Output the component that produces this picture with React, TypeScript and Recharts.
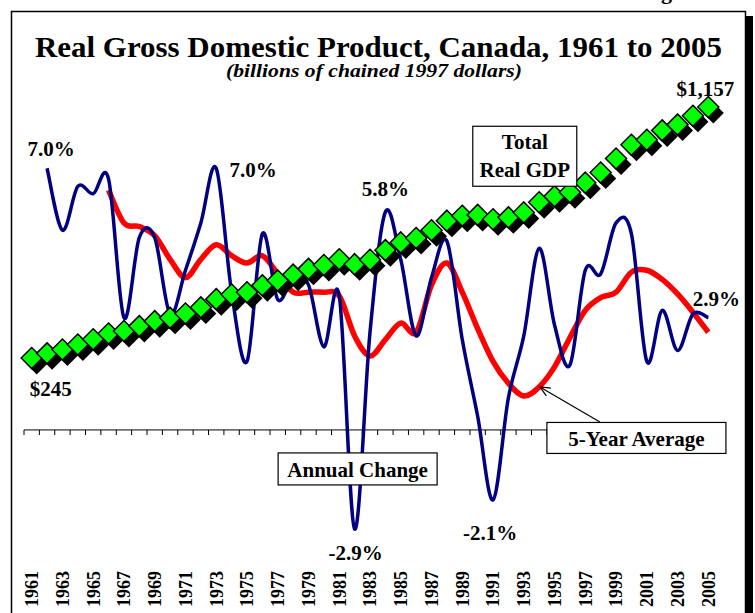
import {
  ComposedChart,
  Line,
  XAxis,
  YAxis,
  ReferenceLine,
  ReferenceDot,
} from "recharts";

const YEARS = [
  1961, 1962, 1963, 1964, 1965, 1966, 1967, 1968, 1969, 1970, 1971, 1972, 1973, 1974, 1975,
  1976, 1977, 1978, 1979, 1980, 1981, 1982, 1983, 1984, 1985, 1986, 1987, 1988, 1989, 1990,
  1991, 1992, 1993, 1994, 1995, 1996, 1997, 1998, 1999, 2000, 2001, 2002, 2003, 2004, 2005,
];

// billions of chained 1997 dollars
const GDP = [
  245, 262, 276, 294, 313, 334, 343, 361, 379, 391, 407, 429, 459, 476, 484,
  509, 527, 548, 569, 583, 604, 586, 602, 637, 665, 681, 709, 744, 762, 765,
  749, 756, 774, 811, 833, 847, 882, 919, 970, 1020, 1038, 1072, 1093, 1125, 1157,
];

// annual % change
const ANNUAL = [
  null, 7.0, 5.3, 6.5, 6.3, 6.7, 2.9, 5.1, 5.1, 3.0, 4.2, 5.5, 7.0, 3.6, 1.7,
  5.2, 3.4, 4.0, 3.8, 2.1, 3.5, -2.9, 2.5, 5.8, 4.5, 2.4, 4.0, 5.0, 2.3, 0.2,
  -2.1, 0.7, 2.4, 4.8, 2.7, 1.6, 4.2, 4.1, 5.5, 5.2, 1.7, 3.1, 2.0, 3.0, 2.9,
];

// 5-year average % change
const AVG5 = [
  null, null, null, null, null, 6.4, 5.5, 5.4, 5.15, 4.5, 4.0, 4.5, 4.9, 4.6, 4.4,
  4.6, 4.1, 3.6, 3.6, 3.6, 3.5, 2.4, 1.85, 2.3, 2.75, 2.5, 3.8, 4.4, 3.6, 2.6,
  1.7, 1.1, 0.75, 1.0, 1.55, 2.35, 3.1, 3.45, 3.6, 4.15, 4.2, 3.95, 3.55, 3.05, 2.5,
];

const LABEL_YEARS = [
  1961, 1963, 1965, 1967, 1969, 1971, 1973, 1975, 1977, 1979, 1981, 1983,
  1985, 1987, 1989, 1991, 1993, 1995, 1997, 1999, 2001, 2003, 2005,
];

const AXIS_AT = -0.18; // where the category axis crosses the % scale

const data = YEARS.map((year, i) => ({
  year,
  gdp: GDP[i],
  annual: ANNUAL[i],
  avg5: AVG5[i],
}));

const tickBounds = [...YEARS.map((y) => y - 0.5), YEARS[YEARS.length - 1] + 0.5];

const SERIF = "Liberation Serif, Times New Roman, Times, serif";
const bold = { fontFamily: SERIF, fontWeight: 700 } as const;

// Catmull-Rom style smoothing, like the spreadsheet's "smoothed line"
function smoothCurve(ctx: any) {
  let pts: number[][] = [];
  return {
    areaStart() {},
    areaEnd() {},
    lineStart() {
      pts = [];
    },
    point(x: number, y: number) {
      pts.push([+x, +y]);
    },
    lineEnd() {
      if (!pts.length) return;
      ctx.moveTo(pts[0][0], pts[0][1]);
      for (let i = 0; i < pts.length - 1; i++) {
        const p0 = pts[i - 1] || pts[i];
        const p1 = pts[i];
        const p2 = pts[i + 1];
        const p3 = pts[i + 2] || p2;
        ctx.bezierCurveTo(
          p1[0] + (p2[0] - p0[0]) / 6,
          p1[1] + (p2[1] - p0[1]) / 6,
          p2[0] - (p3[0] - p1[0]) / 6,
          p2[1] - (p3[1] - p1[1]) / 6,
          p2[0],
          p2[1]
        );
      }
    },
  };
}

function Diamond(props: any) {
  const { cx, cy, index } = props;
  if (cx == null || cy == null) return null;
  const r = 10.5;
  const pts = (ox: number, oy: number) =>
    `${cx + ox},${cy + oy - r} ${cx + ox + r},${cy + oy} ${cx + ox},${cy + oy + r} ${cx + ox - r},${cy + oy}`;
  return (
    <g key={`d-${index}`}>
      <polygon points={pts(5, 6)} fill="#000" />
      <polygon points={pts(0, 0)} fill="#00FF00" stroke="#000" strokeWidth={1.5} />
    </g>
  );
}

function YearTick(props: any) {
  const { x, y, payload } = props;
  return (
    <text
      transform={`translate(${x},${y}) rotate(-90)`}
      x={-67}
      dy="0.35em"
      textAnchor="start"
      style={{ ...bold, fontSize: 18 }}
      fill="#000"
    >
      {payload.value}
    </text>
  );
}

const valueLabel = (text: string, dx: number, dy: number) => (props: any) =>
  (
    <text
      x={props.cx + dx}
      y={props.cy + dy}
      textAnchor="middle"
      style={{ ...bold, fontSize: 21 }}
      fill="#000"
    >
      {text}
    </text>
  );

const boxLabel =
  (lines: string[], w: number, h: number, dx: number, baselines: number[]) => (props: any) =>
    (
      <g>
        <rect
          x={props.cx + dx - w / 2}
          y={props.cy - h / 2}
          width={w}
          height={h}
          fill="#fff"
          stroke="#000"
          strokeWidth={1.2}
        />
        {lines.map((t, i) => (
          <text
            key={t}
            x={props.cx + dx}
            y={props.cy + baselines[i]}
            textAnchor="middle"
            style={{ ...bold, fontSize: 21 }}
            fill="#000"
          >
            {t}
          </text>
        ))}
      </g>
    );

function Arrow(props: any) {
  const { x1, y1, x2, y2 } = props;
  if ([x1, y1, x2, y2].some((v) => v == null)) return null;
  // tip at (x1, y1)
  const ang = Math.atan2(y2 - y1, x2 - x1);
  const len = 11;
  const spread = 0.42;
  const a1 = ang + spread;
  const a2 = ang - spread;
  return (
    <g stroke="#000" strokeWidth={1.2} fill="none">
      <line x1={x1} y1={y1} x2={x2} y2={y2} />
      <line x1={x1} y1={y1} x2={x1 + len * Math.cos(a1)} y2={y1 + len * Math.sin(a1)} />
      <line x1={x1} y1={y1} x2={x1 + len * Math.cos(a2)} y2={y1 + len * Math.sin(a2)} />
    </g>
  );
}

export default function App() {
  return (
    <div
      style={{
        position: "absolute",
        left: 0,
        top: 0,
        width: 755,
        height: 613,
        background: "#fff",
        overflow: "hidden",
      }}
    >
      <svg width={755} height={613} style={{ position: "absolute", left: 0, top: 0 }}>
        <text x={672} y={-1} textAnchor="end" style={{ ...bold, fontSize: 22 }}>
          g
        </text>
        <rect x={746} y={16} width={7} height={620} fill="#000" />
        <rect x={11.5} y={11.5} width={734} height={640} fill="#fff" stroke="#000" strokeWidth={1.5} />
        <text
          x={378.5}
          y={57}
          textAnchor="middle"
          style={{ ...bold, fontSize: 29 }}
          textLength={687}
          lengthAdjust="spacingAndGlyphs"
        >
          Real Gross Domestic Product, Canada, 1961 to 2005
        </text>
        <text
          x={374}
          y={77}
          textAnchor="middle"
          style={{ ...bold, fontStyle: "italic", fontSize: 19 }}
          textLength={296}
          lengthAdjust="spacingAndGlyphs"
        >
          (billions of chained 1997 dollars)
        </text>
      </svg>
      <div style={{ position: "absolute", left: 0, top: 0 }}>
        <ComposedChart
          width={755}
          height={613}
          data={data}
          margin={{ top: 99, right: 39, left: 24, bottom: 0 }}
        >
          <XAxis
            dataKey="year"
            type="number"
            domain={[1960.5, 2005.5]}
            ticks={LABEL_YEARS}
            interval={0}
            height={73}
            axisLine={false}
            tickLine={false}
            tickSize={0}
            tickMargin={0}
            tick={<YearTick />}
          />
          <YAxis yAxisId="pct" hide domain={[-3.2, 8.9]} />
          <YAxis yAxisId="gdp" hide domain={[-416, 1186]} />

          <ReferenceLine yAxisId="pct" y={AXIS_AT} stroke="#000" strokeWidth={1} />
          {tickBounds.map((b) => (
            <ReferenceLine
              key={`t-${b}`}
              yAxisId="pct"
              segment={[
                { x: b, y: AXIS_AT },
                { x: b, y: AXIS_AT - 0.14 },
              ]}
              stroke="#000"
              strokeWidth={1}
            />
          ))}

          <Line
            yAxisId="gdp"
            dataKey="gdp"
            stroke="none"
            dot={Diamond}
            activeDot={false}
            isAnimationActive={false}
          />
          <Line
            yAxisId="pct"
            type={smoothCurve as any}
            dataKey="avg5"
            stroke="#FF0000"
            strokeWidth={5.5}
            dot={false}
            activeDot={false}
            isAnimationActive={false}
          />
          <Line
            yAxisId="pct"
            type={smoothCurve as any}
            dataKey="annual"
            stroke="#000080"
            strokeWidth={3.5}
            dot={false}
            activeDot={false}
            isAnimationActive={false}
          />

          <ReferenceDot yAxisId="pct" x={1962} y={7.0} shape={valueLabel("7.0%", 4, -12)} />
          <ReferenceDot yAxisId="pct" x={1973} y={7.0} shape={valueLabel("7.0%", 37, 9)} />
          <ReferenceDot yAxisId="pct" x={1984} y={5.8} shape={valueLabel("5.8%", 0, -16)} />
          <ReferenceDot yAxisId="pct" x={2005} y={2.9} shape={valueLabel("2.9%", 8, -12)} />
          <ReferenceDot yAxisId="pct" x={1982} y={-2.9} shape={valueLabel("-2.9%", 1, 31)} />
          <ReferenceDot yAxisId="pct" x={1991} y={-2.1} shape={valueLabel("-2.1%", -3, 40)} />
          <ReferenceDot yAxisId="gdp" x={1961} y={245} shape={valueLabel("$245", 19, 38)} />
          <ReferenceDot yAxisId="gdp" x={2005} y={1157} shape={valueLabel("$1,157", -3, -11)} />

          <ReferenceLine
            yAxisId="pct"
            segment={[
              { x: 1994.05, y: 1.0 },
              { x: 1997.95, y: 0.04 },
            ]}
            shape={Arrow}
          />
          <ReferenceDot
            yAxisId="gdp"
            x={1993}
            y={978}
            shape={boxLabel(["Total", "Real GDP"], 104, 60, 1, [-7, 21])}
          />
          <ReferenceDot
            yAxisId="pct"
            x={1982}
            y={-1.25}
            shape={boxLabel(["Annual Change"], 159, 32, 3, [8])}
          />
          <ReferenceDot
            yAxisId="pct"
            x={2000}
            y={-0.4}
            shape={boxLabel(["5-Year Average"], 179, 31, 5, [8])}
          />
        </ComposedChart>
      </div>
    </div>
  );
}
